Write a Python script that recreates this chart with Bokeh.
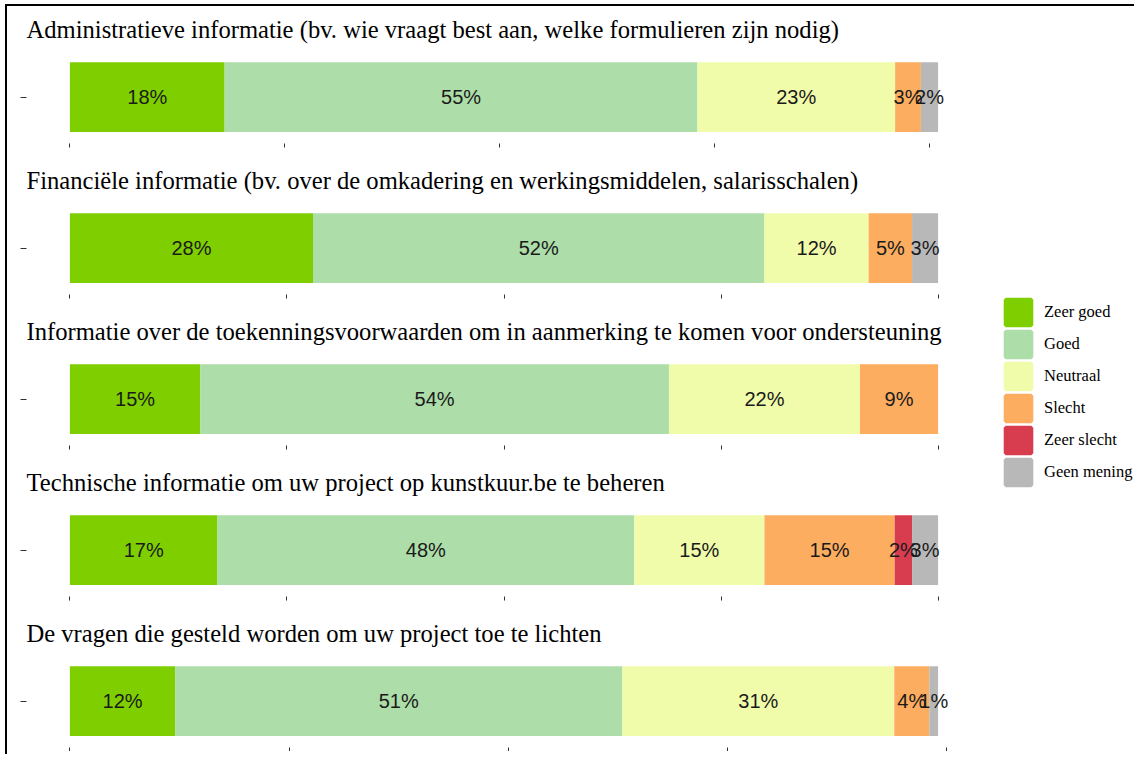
import numpy as np
from bokeh.plotting import figure
from bokeh.models import ColumnDataSource, Range1d, FixedTicker, Legend, LegendItem
from bokeh.layouts import row, column
from bokeh.embed import file_html
from bokeh.resources import INLINE
from bokeh.core.properties import value

titles = [
    "Administratieve informatie (bv. wie vraagt best aan, welke formulieren zijn nodig)",
    "Financiële informatie (bv. over de omkadering en werkingsmiddelen, salarisschalen)",
    "Informatie over de toekenningsvoorwaarden om in aanmerking te komen voor ondersteuning",
    "Technische informatie om uw project op kunstkuur.be te beheren",
    "De vragen die gesteld worden om uw project toe te lichten",
]
categories = ["Zeer goed", "Goed", "Neutraal", "Slecht", "Zeer slecht", "Geen mening"]
colors = ["#7FCF00", "#ADDDA8", "#F0FCAA", "#FDAD60", "#D73D4F", "#B8B8B8"]

zeer_goed = [18, 28, 15, 17, 12]
goed = [55, 52, 54, 48, 51]
neutraal = [23, 12, 22, 15, 31]
slecht = [3, 5, 9, 15, 4]
zeer_slecht = [0, 0, 0, 2, 0]
geen_mening = [2, 3, 0, 3, 1]

x_ticks = [0, 25, 50, 75, 100]

series = [zeer_goed, goed, neutraal, slecht, zeer_slecht, geen_mening]

FONT_SERIF = "Liberation Serif"
FONT_SANS = "Liberation Sans"

bottoms = [14, 14, 14, 14, 4]
figs = []
for i, t in enumerate(titles):
    vals = np.array([s[i] for s in series], dtype=float)
    total = vals.sum()
    right = np.cumsum(vals)
    left = right - vals
    keep = vals > 0
    src = ColumnDataSource(dict(
        y=[1] * int(keep.sum()),
        left=left[keep],
        right=right[keep],
        mid=((left + right) / 2)[keep],
        color=[c for c, k in zip(colors, keep) if k],
        label=[f"{int(v)}%" for v, k in zip(vals, keep) if k],
    ))
    p = figure(frame_width=955, frame_height=93,
               min_border_left=19, min_border_right=16,
               min_border_top=43, min_border_bottom=bottoms[i],
               x_range=Range1d(-0.05 * total, 1.05 * total),
               y_range=Range1d(0.4, 1.6),
               output_backend="svg", toolbar_location=None, title=t)
    p.hbar(y="y", left="left", right="right", height=0.9,
           fill_color="color", line_color=None, source=src)
    p.text(x="mid", y="y", text="label", text_align="center", text_baseline="middle",
           text_font=value(FONT_SANS), text_font_size="20px", text_color="#1A1A1A",
           source=src)
    p.title.text_font = FONT_SERIF
    p.title.text_font_size = "24.6px"
    p.title.text_font_style = "normal"
    p.title.text_color = "black"
    p.title.align = "left"
    p.title.standoff = 15

    p.xaxis.ticker = FixedTicker(ticks=x_ticks)
    p.xaxis.major_label_overrides = {k: "" for k in x_ticks}
    p.yaxis.ticker = FixedTicker(ticks=[1])
    p.yaxis.major_label_overrides = {1: ""}
    for ax in (p.xaxis, p.yaxis):
        ax.axis_line_color = None
        ax.major_tick_line_color = "#333333"
        ax.major_tick_line_width = 1
        ax.major_tick_in = 0
        ax.minor_tick_line_color = None
        ax.major_label_standoff = 0
        ax.major_label_text_font_size = "1px"
    p.xaxis.major_tick_out = 4
    p.yaxis.major_tick_out = 6
    p.grid.visible = False
    p.outline_line_color = None
    p.background_fill_color = "white"
    p.border_fill_color = "white"
    figs.append(p)

lg_h = 748

lg = figure(width=137, height=lg_h, min_border=0,
            x_range=Range1d(0, 1), y_range=Range1d(0, 1),
            x_axis_location=None, y_axis_location=None,
            output_backend="svg", toolbar_location=None)
lg.grid.visible = False
lg.outline_line_color = None
items = []
for c, col in zip(categories, colors):
    # legend-only renderer: its single data point is NaN, so nothing is drawn in the frame
    r = lg.hbar(y=[np.nan], left=[np.nan], right=[np.nan], height=1,
                fill_color=col, line_color=col, line_width=4)
    items.append(LegendItem(label=c, renderers=[r]))
leg = Legend(items=items, location=(5, lg_h - 482), orientation="vertical",
             glyph_width=32, glyph_height=32, label_height=32, spacing=0,
             label_standoff=10, margin=0, padding=0,
             border_line_color=None, background_fill_alpha=0,
             label_text_font=FONT_SERIF, label_text_font_size="16.5px",
             label_text_color="black")
lg.add_layout(leg)

layout = row(column(*figs), lg,
             styles={"margin-left": "5px", "margin-top": "4px",
                     "border-left": "2px solid black", "border-top": "2px solid black"})

open("out.html", "w").write(file_html(layout, INLINE))
